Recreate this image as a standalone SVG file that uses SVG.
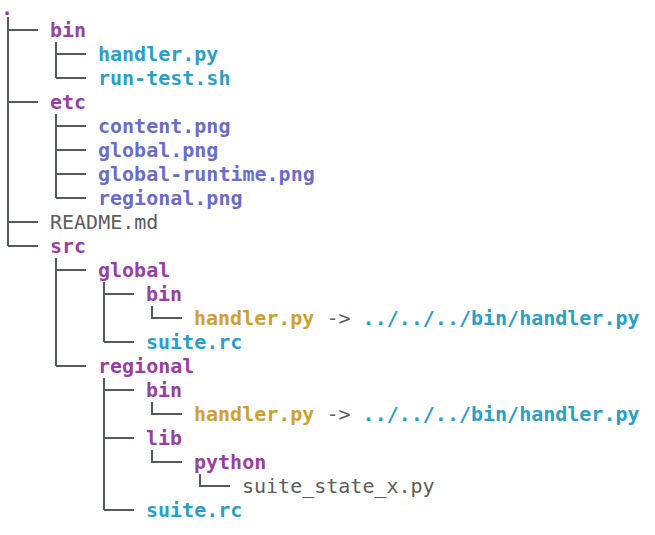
<svg xmlns="http://www.w3.org/2000/svg" width="655" height="535" viewBox="0 0 655 535">
<style>
text{font-family:"DejaVu Sans Mono","Liberation Mono",monospace;font-size:20px}
.d{fill:#9a3ea5;font-weight:bold}
.f{fill:#2a9fc9;font-weight:bold}
.p{fill:#6a6ccc;font-weight:bold}
.s{fill:#d39f2c;font-weight:bold}
.g{fill:#5c5c5c}
.c path{stroke:#545a64;stroke-width:2;fill:none}
</style>
<rect width="655" height="535" fill="#fff"/>
<g class="c" id="connectors">
<path d="M8 17V246M8 30H38M8 102H38M8 222H38M8 246H38"/>
<path d="M56 42V78M56 54H86M56 78H86"/>
<path d="M56 114V198M56 126H86M56 150H86M56 174H86M56 198H86"/>
<path d="M56 258V366M56 270H86M56 366H86"/>
<path d="M104 282V342M104 294H134M104 342H134"/>
<path d="M152 306V318H182"/>
<path d="M104 378V510M104 390H134M104 438H134M104 510H134"/>
<path d="M152 402V414H182"/>
<path d="M152 450V462H182"/>
<path d="M200 474V486H230"/>
</g>
<g id="root"><text class="d" x="1" y="15">.</text></g>
<g id="bin"><text class="d" x="50" y="37">bin</text></g>
<g id="bin-handler"><text class="f" x="98" y="61">handler.py</text></g>
<g id="bin-runtest"><text class="f" x="98" y="85">run-test.sh</text></g>
<g id="etc"><text class="d" x="50" y="109">etc</text></g>
<g id="content"><text class="p" x="98" y="133">content.png</text></g>
<g id="globalpng"><text class="p" x="98" y="157">global.png</text></g>
<g id="globalruntime"><text class="p" x="98" y="181">global-runtime.png</text></g>
<g id="regionalpng"><text class="p" x="98" y="205">regional.png</text></g>
<g id="readme"><text class="g" x="50" y="229">README.md</text></g>
<g id="src"><text class="d" x="50" y="253">src</text></g>
<g id="global"><text class="d" x="98" y="277">global</text></g>
<g id="global-bin"><text class="d" x="146" y="301">bin</text></g>
<g id="global-handler"><text x="194" y="325"><tspan class="s">handler.py</tspan><tspan class="g"> -&gt; </tspan><tspan class="f">../../../bin/handler.py</tspan></text></g>
<g id="global-suite"><text class="f" x="146" y="349">suite.rc</text></g>
<g id="regional"><text class="d" x="98" y="373">regional</text></g>
<g id="regional-bin"><text class="d" x="146" y="397">bin</text></g>
<g id="regional-handler"><text x="194" y="421"><tspan class="s">handler.py</tspan><tspan class="g"> -&gt; </tspan><tspan class="f">../../../bin/handler.py</tspan></text></g>
<g id="lib"><text class="d" x="146" y="445">lib</text></g>
<g id="python"><text class="d" x="194" y="469">python</text></g>
<g id="suitestate"><text class="g" x="242" y="493">suite_state_x.py</text></g>
<g id="regional-suite"><text class="f" x="146" y="517">suite.rc</text></g>
</svg>
